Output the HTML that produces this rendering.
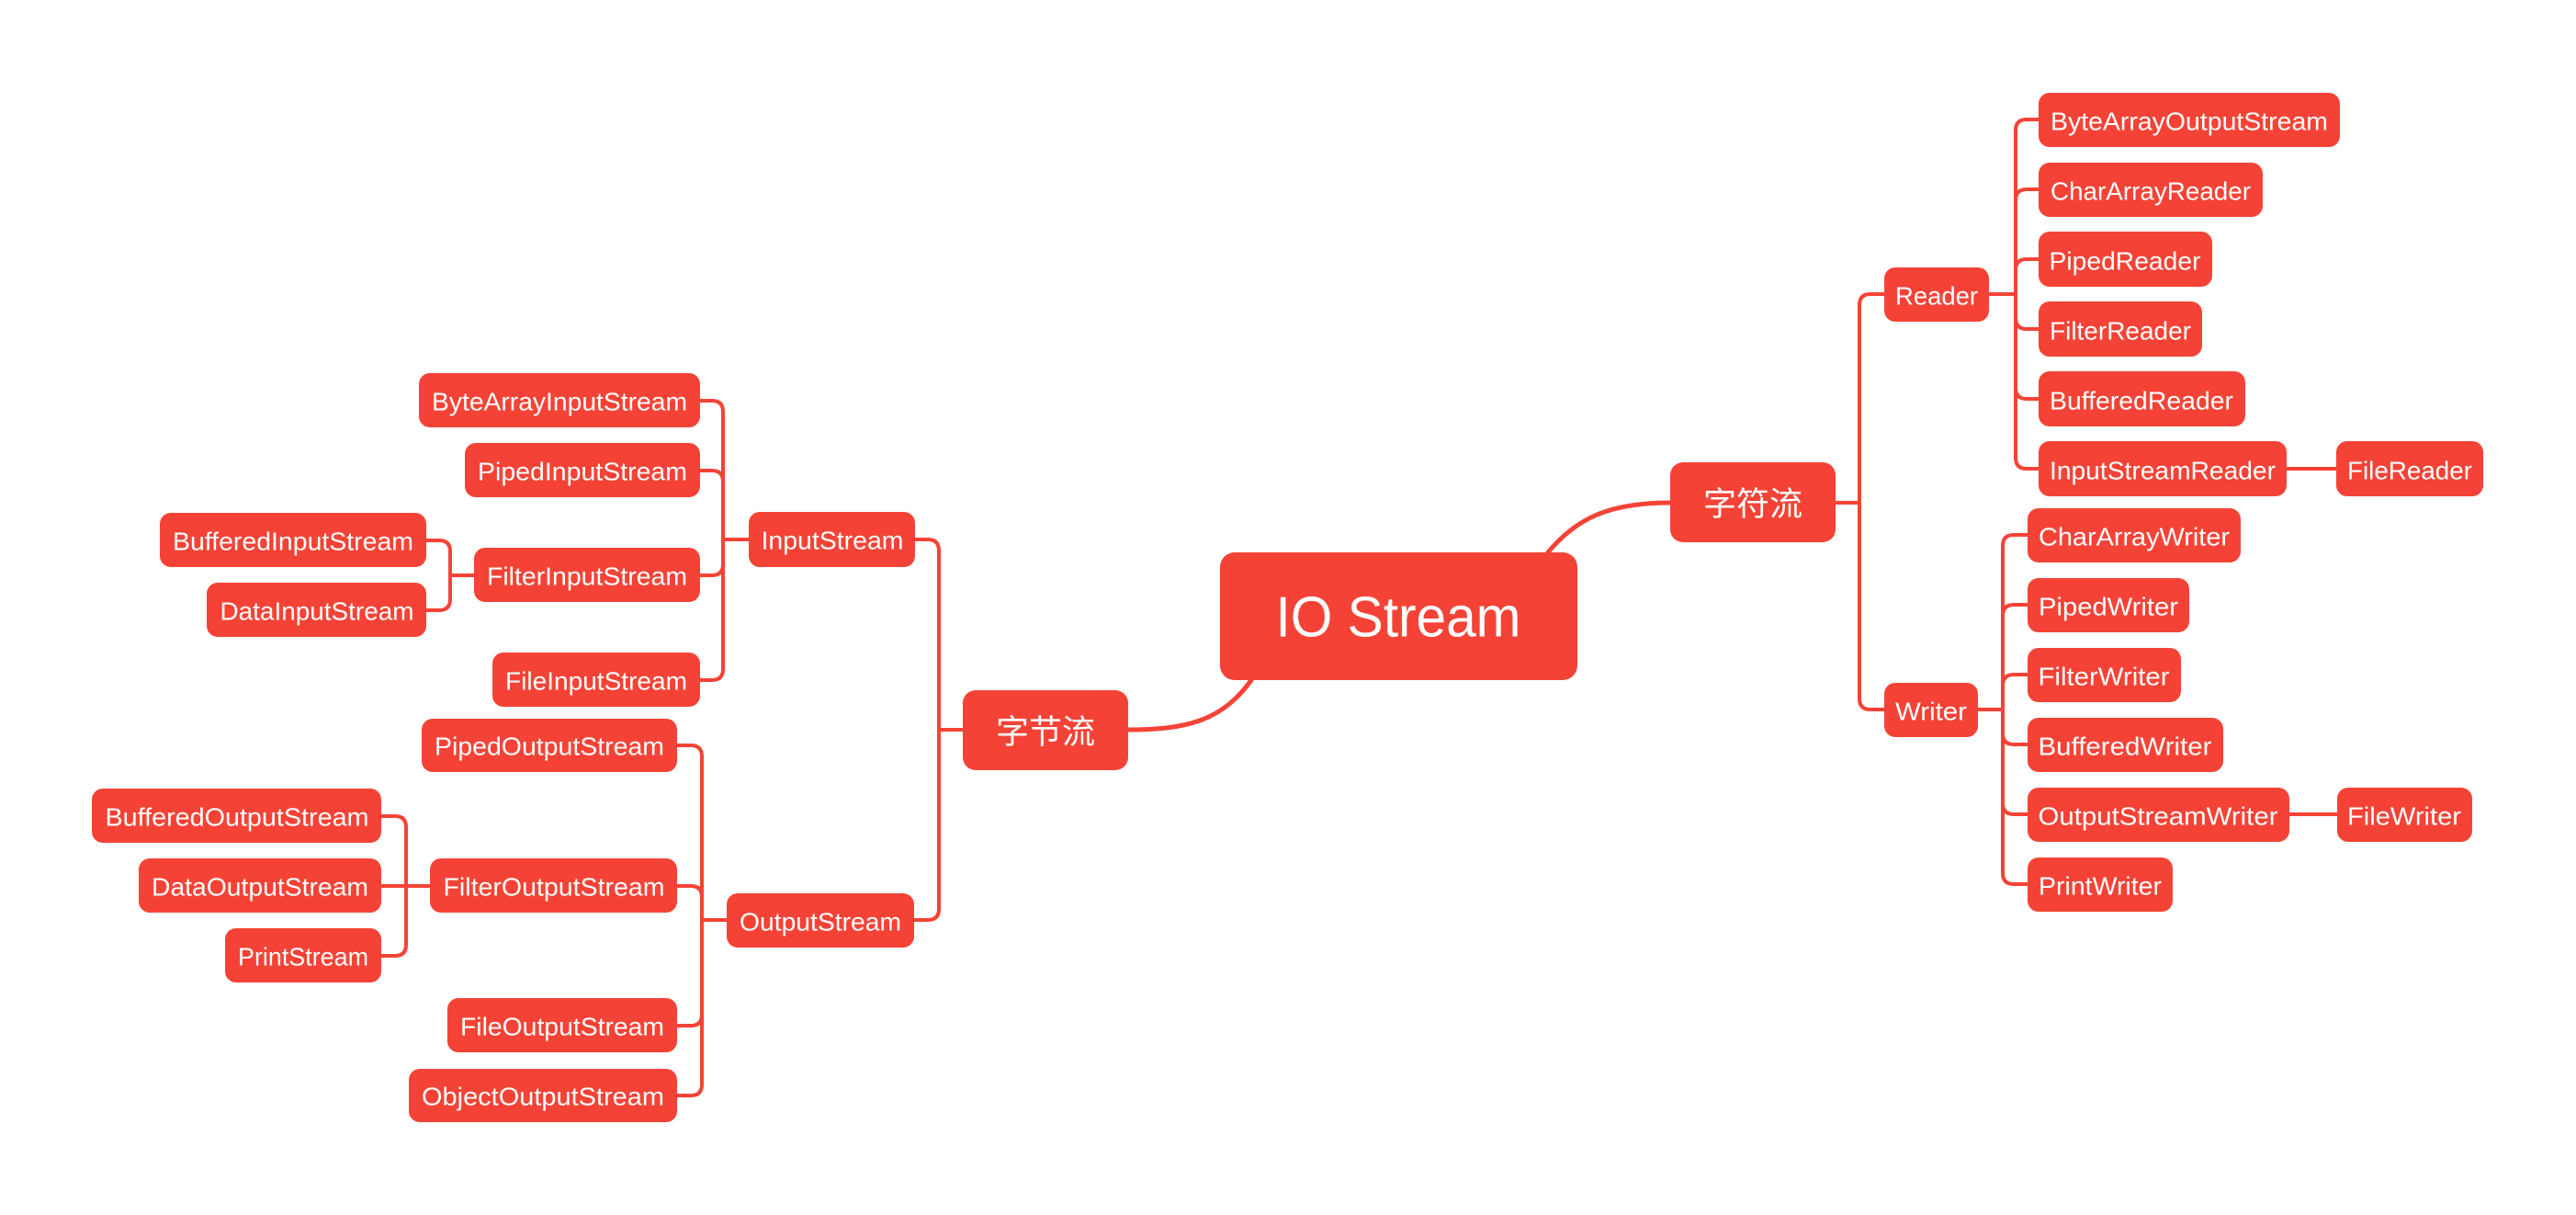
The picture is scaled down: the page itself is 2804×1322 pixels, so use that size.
<!DOCTYPE html>
<html><head><meta charset="utf-8"><style>
html,body{margin:0;padding:0;background:#fff;}
svg{display:block;}
text{fill:#fff;font-family:"Liberation Sans","Noto Sans CJK SC",sans-serif;}
</style></head><body>
<svg width="2804" height="1322" viewBox="0 0 2804 1322" xmlns="http://www.w3.org/2000/svg">
<g fill="none" stroke="#f44336" stroke-width="4" stroke-linecap="round">
<!-- main curves -->
<path d="M1362,740 C1330,785 1290,794 1228,794" stroke-width="5"/>
<path d="M1685,601 C1715,565 1750,547 1818,547" stroke-width="5"/>
<!-- G1 -->
<path d="M762,436 H775 Q787,436 787,448 V587"/>
<path d="M762,512 H775 Q787,512 787,524 V587"/>
<path d="M762,626 H775 Q787,626 787,614 V587"/>
<path d="M762,740 H775 Q787,740 787,728 V587"/>
<path d="M787,587 H815"/>
<!-- G2 -->
<path d="M464,588 H478 Q490,588 490,600 V626"/>
<path d="M464,664 H478 Q490,664 490,652 V626"/>
<path d="M490,626 H516"/>
<!-- G3 -->
<path d="M737,811 H752 Q764,811 764,823 V1001"/>
<path d="M737,964 H752 Q764,964 764,976 V1001"/>
<path d="M737,1116 H752 Q764,1116 764,1104 V1001"/>
<path d="M737,1192 H752 Q764,1192 764,1180 V1001"/>
<path d="M764,1001 H791"/>
<!-- G4 -->
<path d="M415,888 H430 Q442,888 442,900 V964"/>
<path d="M415,964 H468"/>
<path d="M415,1040 H430 Q442,1040 442,1028 V964"/>
<!-- G5 -->
<path d="M996,587 H1010 Q1022,587 1022,599 V794"/>
<path d="M995,1001 H1010 Q1022,1001 1022,989 V794"/>
<path d="M1022,794 H1048"/>
<!-- 字符流 -->
<path d="M2051,320 H2036 Q2024,320 2024,332 V547"/>
<path d="M2051,772 H2036 Q2024,772 2024,760 V547"/>
<path d="M1998,547 H2024"/>
<!-- Reader -->
<path d="M2219,130 H2206 Q2194,130 2194,142 V320"/>
<path d="M2219,206 H2206 Q2194,206 2194,218 V320"/>
<path d="M2219,282 H2206 Q2194,282 2194,294 V320"/>
<path d="M2219,358 H2206 Q2194,358 2194,346 V320"/>
<path d="M2219,434 H2206 Q2194,434 2194,422 V320"/>
<path d="M2219,510 H2206 Q2194,510 2194,498 V320"/>
<path d="M2165,320 H2194"/>
<path d="M2489,510 H2543"/>
<!-- Writer -->
<path d="M2207,582 H2192 Q2180,582 2180,594 V772"/>
<path d="M2207,658 H2192 Q2180,658 2180,670 V772"/>
<path d="M2207,734 H2192 Q2180,734 2180,746 V772"/>
<path d="M2207,810 H2192 Q2180,810 2180,798 V772"/>
<path d="M2207,886 H2192 Q2180,886 2180,874 V772"/>
<path d="M2207,962 H2192 Q2180,962 2180,950 V772"/>
<path d="M2153,772 H2180"/>
<path d="M2492,886 H2544"/>
</g>
<g fill="#f44336">
<rect x="1328" y="601" width="389" height="139" rx="16"/>
<rect x="1048" y="751" width="180" height="87" rx="14"/>
<rect x="1818" y="503" width="180" height="87" rx="14"/>
<rect x="456" y="406" width="306" height="59" rx="12"/>
<rect x="506" y="482" width="256" height="59" rx="12"/>
<rect x="516" y="596" width="246" height="59" rx="12"/>
<rect x="536" y="710" width="226" height="59" rx="12"/>
<rect x="174" y="558" width="290" height="59" rx="12"/>
<rect x="225" y="634" width="239" height="59" rx="12"/>
<rect x="815" y="557" width="181" height="60" rx="12"/>
<rect x="459" y="782" width="278" height="58" rx="12"/>
<rect x="100" y="858" width="315" height="59" rx="12"/>
<rect x="151" y="934" width="264" height="59" rx="12"/>
<rect x="245" y="1010" width="170" height="59" rx="12"/>
<rect x="468" y="934" width="269" height="59" rx="12"/>
<rect x="791" y="972" width="204" height="59" rx="12"/>
<rect x="487" y="1086" width="250" height="59" rx="12"/>
<rect x="445" y="1163" width="292" height="58" rx="12"/>
<rect x="2051" y="291" width="114" height="59" rx="12"/>
<rect x="2051" y="743" width="102" height="59" rx="12"/>
<rect x="2219" y="101" width="328" height="59" rx="12"/>
<rect x="2219" y="177" width="244" height="59" rx="12"/>
<rect x="2219" y="252" width="189" height="60" rx="12"/>
<rect x="2219" y="328" width="178" height="60" rx="12"/>
<rect x="2219" y="404" width="225" height="60" rx="12"/>
<rect x="2219" y="480" width="270" height="60" rx="12"/>
<rect x="2543" y="480" width="160" height="60" rx="12"/>
<rect x="2207" y="553" width="232" height="59" rx="12"/>
<rect x="2207" y="629" width="176" height="59" rx="12"/>
<rect x="2207" y="705" width="167" height="59" rx="12"/>
<rect x="2207" y="781" width="213" height="59" rx="12"/>
<rect x="2207" y="857" width="285" height="59" rx="12"/>
<rect x="2544" y="857" width="147" height="59" rx="12"/>
<rect x="2207" y="933" width="158" height="59" rx="12"/>
</g>
<g font-size="28" dominant-baseline="central" text-anchor="middle" lengthAdjust="spacingAndGlyphs">
<text x="1522" y="672" font-size="62" textLength="267" lengthAdjust="spacingAndGlyphs">IO Stream</text>
<text x="1138" y="796" font-size="36">字节流</text>
<text x="1908" y="548" font-size="36">字符流</text>
<text x="609" y="437" textLength="278" lengthAdjust="spacingAndGlyphs">ByteArrayInputStream</text>
<text x="634" y="513" textLength="228" lengthAdjust="spacingAndGlyphs">PipedInputStream</text>
<text x="639" y="627" textLength="218" lengthAdjust="spacingAndGlyphs">FilterInputStream</text>
<text x="649" y="741" textLength="198" lengthAdjust="spacingAndGlyphs">FileInputStream</text>
<text x="319" y="589" textLength="262" lengthAdjust="spacingAndGlyphs">BufferedInputStream</text>
<text x="345" y="665" textLength="211" lengthAdjust="spacingAndGlyphs">DataInputStream</text>
<text x="906" y="588" textLength="155" lengthAdjust="spacingAndGlyphs">InputStream</text>
<text x="598" y="812" textLength="250" lengthAdjust="spacingAndGlyphs">PipedOutputStream</text>
<text x="258" y="889" textLength="287" lengthAdjust="spacingAndGlyphs">BufferedOutputStream</text>
<text x="283" y="965" textLength="236" lengthAdjust="spacingAndGlyphs">DataOutputStream</text>
<text x="330" y="1041" textLength="142" lengthAdjust="spacingAndGlyphs">PrintStream</text>
<text x="603" y="965" textLength="241" lengthAdjust="spacingAndGlyphs">FilterOutputStream</text>
<text x="893" y="1003" textLength="176" lengthAdjust="spacingAndGlyphs">OutputStream</text>
<text x="612" y="1117" textLength="222" lengthAdjust="spacingAndGlyphs">FileOutputStream</text>
<text x="591" y="1193" textLength="264" lengthAdjust="spacingAndGlyphs">ObjectOutputStream</text>
<text x="2108" y="322" textLength="90" lengthAdjust="spacingAndGlyphs">Reader</text>
<text x="2102" y="774" textLength="78" lengthAdjust="spacingAndGlyphs">Writer</text>
<text x="2383" y="132" textLength="302" lengthAdjust="spacingAndGlyphs">ByteArrayOutputStream</text>
<text x="2341" y="208" textLength="218" lengthAdjust="spacingAndGlyphs">CharArrayReader</text>
<text x="2313" y="284" textLength="165" lengthAdjust="spacingAndGlyphs">PipedReader</text>
<text x="2308" y="360" textLength="154" lengthAdjust="spacingAndGlyphs">FilterReader</text>
<text x="2331" y="436" textLength="200" lengthAdjust="spacingAndGlyphs">BufferedReader</text>
<text x="2354" y="512" textLength="246" lengthAdjust="spacingAndGlyphs">InputStreamReader</text>
<text x="2623" y="512" textLength="136" lengthAdjust="spacingAndGlyphs">FileReader</text>
<text x="2323" y="584" textLength="208" lengthAdjust="spacingAndGlyphs">CharArrayWriter</text>
<text x="2295" y="660" textLength="152" lengthAdjust="spacingAndGlyphs">PipedWriter</text>
<text x="2290" y="736" textLength="143" lengthAdjust="spacingAndGlyphs">FilterWriter</text>
<text x="2313" y="812" textLength="189" lengthAdjust="spacingAndGlyphs">BufferedWriter</text>
<text x="2349" y="888" textLength="261" lengthAdjust="spacingAndGlyphs">OutputStreamWriter</text>
<text x="2617" y="888" textLength="124" lengthAdjust="spacingAndGlyphs">FileWriter</text>
<text x="2286" y="964" textLength="134" lengthAdjust="spacingAndGlyphs">PrintWriter</text>
</g>
</svg>
</body></html>
